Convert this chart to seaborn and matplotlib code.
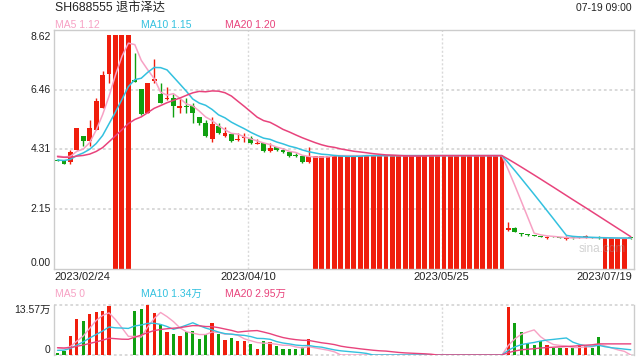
import numpy as np
import pandas as pd
import matplotlib
matplotlib.use("Agg")
import matplotlib.pyplot as plt
import matplotlib.transforms as mtransforms
import seaborn as sns

sns.set_theme(style="white")
plt.rcParams['font.family'] = ['Liberation Sans', 'Noto Sans CJK SC', 'DejaVu Sans']

# ---------------- data ----------------
title = "SH688555 退市泽达"
stamp = "07-19 09:00"

open_ = [3.93, 3.91, 3.85, 4.29, 4.80, 4.60, 4.99, 5.80, 7.04, 0, 0, 0,
         6.82, 6.49, 5.61, 6.78, 6.31, 6.14, 6.16, 5.80, 5.87, 5.87, 5.48, 5.26,
         4.68, 5.15, 4.79, 4.86, 4.63, 4.70, 4.72, 4.50, 4.54, 4.25, 4.39, 4.28,
         4.21, 4.08, 4.07, 3.85,
         0, 0, 0, 0, 0, 0, 0, 0, 0, 0, 0, 0, 0, 0, 0,
         0, 0, 0, 0, 0, 0, 0, 0, 0, 0, 0, 0, 0, 0, 0,
         1.39, 1.45, 1.25, 1.22, 1.20, 1.17, 1.10, 1.16, 1.15, 1.07, 1.11, 1.12,
         1.13, 1.14, 1.15, 0, 0, 0, 0, 1.10]
high = [3.95, 3.92, 4.29, 5.08, 4.80, 5.38, 6.16, 7.15, 8.45, 8.43, 8.43, 8.43,
        7.79, 6.49, 6.72, 7.57, 6.70, 6.56, 6.31, 6.16, 6.16, 5.98, 5.48, 5.37,
        5.48, 5.26, 5.11, 4.86, 4.90, 4.90, 4.79, 4.68, 4.54, 4.54, 4.39, 4.34,
        4.21, 4.17, 4.07, 4.39,
        4.08, 4.08, 4.08, 4.08, 4.08, 4.08, 4.08, 4.08, 4.08, 4.08, 4.08, 4.08, 4.08, 4.08, 4.08,
        4.08, 4.08, 4.08, 4.08, 4.08, 4.08, 4.08, 4.08, 4.08, 4.08, 4.08, 4.08, 4.08, 4.08, 4.08,
        1.69, 1.51, 1.27, 1.25, 1.21, 1.17, 1.19, 1.17, 1.15, 1.19, 1.12, 1.19,
        1.21, 1.15, 1.16, 1.09, 1.09, 1.09, 1.09, 1.10]
low = [3.88, 3.77, 3.78, 4.29, 4.42, 4.42, 4.99, 5.80, 6.70, 0, 0, 0,
       6.74, 5.54, 5.61, 6.70, 5.98, 6.09, 5.48, 5.62, 5.62, 5.26, 5.19, 4.75,
       4.57, 4.86, 4.75, 4.57, 4.61, 4.57, 4.50, 4.50, 4.21, 4.21, 4.26, 4.19,
       4.03, 4.03, 3.81, 3.81,
       0, 0, 0, 0, 0, 0, 0, 0, 0, 0, 0, 0, 0, 0, 0,
       0, 0, 0, 0, 0, 0, 0, 0, 0, 0, 0, 0, 0, 0, 0,
       1.37, 1.31, 1.19, 1.19, 1.17, 1.14, 1.07, 1.13, 1.09, 1.03, 1.08, 1.10,
       1.11, 1.09, 1.08, 0, 0, 0, 0, 1.08]
close = [3.90, 3.79, 4.21, 5.08, 4.60, 5.08, 6.04, 7.00, 8.43, 8.43, 8.43, 8.43,
         6.74, 5.59, 6.72, 6.85, 5.98, 6.18, 5.87, 5.87, 5.84, 5.62, 5.26, 4.79,
         5.22, 4.90, 4.90, 4.61, 4.66, 4.72, 4.54, 4.52, 4.25, 4.36, 4.28, 4.21,
         4.07, 4.05, 3.85, 4.08,
         4.08, 4.08, 4.08, 4.08, 4.08, 4.08, 4.08, 4.08, 4.08, 4.08, 4.08, 4.08, 4.08, 4.08, 4.08,
         4.08, 4.08, 4.08, 4.08, 4.08, 4.08, 4.08, 4.08, 4.08, 4.08, 4.08, 4.08, 4.08, 4.08, 4.08,
         1.45, 1.31, 1.23, 1.20, 1.19, 1.15, 1.12, 1.14, 1.09, 1.09, 1.09, 1.14,
         1.15, 1.10, 1.09, 1.09, 1.09, 1.09, 1.09, 1.09]
# volume in 万 shares
volume = [0.62, 1.00, 5.16, 9.77, 9.23, 11.13, 11.58, 11.94, 13.30, 0, 0, 0,
          11.94, 12.40, 13.57, 11.48, 8.32, 6.33, 5.61, 5.16, 6.15, 6.51, 4.34, 5.61,
          8.60, 5.61, 4.07, 4.70, 3.80, 3.80, 2.99, 1.63, 3.80, 3.60, 2.53, 1.63,
          1.63, 1.54, 2.26, 4.25,
          0, 0, 0, 0, 0, 0, 0, 0, 0, 0, 0, 0, 0, 0, 0,
          0, 0, 0, 0, 0, 0, 0, 0, 0, 0, 0, 0, 0, 0, 0,
          13.10, 8.77, 6.33, 3.17, 2.71, 3.80, 2.71, 1.81, 1.99, 1.81, 1.81, 2.71,
          2.71, 1.99, 4.97, 0, 0, 0, 0, 0]
# sessions before the visible window (only feed the moving averages)
prior_close = [4.20, 4.25, 4.18, 4.12, 4.10, 4.15, 4.22, 4.18, 4.12, 4.08,
               3.95, 3.80, 3.70, 3.65, 3.75, 3.98, 4.10, 4.18, 4.19]
prior_volume = [2.5, 3.1, 2.8, 2.2, 2.6, 3.0, 2.9, 2.4, 2.7, 2.7,
                0.6, 0.5, 0.7, 0.4, 0.6, 2.1, 2.5, 2.4, 2.28]

date_labels = ["2023/02/24", "2023/04/10", "2023/05/25", "2023/07/19"]
date_index = [0, 30, 60, 89]
price_ticks = [0.00, 2.15, 4.31, 6.46, 8.62]
price_tick_labels = ["0.00", "2.15", "4.31", "6.46", "8.62"]
vol_top = 13.57
vol_tick_labels = ["0", "13.57万"]
ma_windows = [5, 10, 20]
ma_names = ["MA5", "MA10", "MA20"]
ma_price_text = ["1.12", "1.15", "1.20"]
ma_vol_text = ["0", "1.34万", "2.95万"]

# ---------------- style ----------------
RED = "#f01d0c"
GREEN = "#10a010"
MA_COLORS = ["#f7a1c4", "#33c1df", "#e8437c"]
GRID = "#d9d9d9"
BORDER = "#cccccc"
TXT = "#222222"

n = len(close)
x = np.arange(n)
o = np.array(open_); h = np.array(high); l = np.array(low); c = np.array(close)
v = np.array(volume)
up = c >= o
colors = np.where(up, RED, GREEN)

full_close = pd.Series(prior_close + close)
full_vol = pd.Series(prior_volume + volume)
k = len(prior_close)

fig = plt.figure(figsize=(6.4, 3.6), dpi=100)
W, H = 640, 360
L, R = 54.3, 634
ax = fig.add_axes([L / W, 1 - 268.5 / H, (R - L) / W, 238.5 / H])
axv = fig.add_axes([L / W, 1 - 355 / H, (R - L) / W, 50 / H])

# ---------------- price pane ----------------
ax.set_xlim(-0.5, n - 0.5)
ax.set_ylim(0, price_ticks[-1])
for yv in price_ticks[1:-1]:
    ax.axhline(yv, color=GRID, lw=1.4, dashes=(1.4, 1.4), zorder=0)
for di in date_index[1:3]:
    ax.axvline(di - 0.35, color=GRID, lw=1.0, dashes=(1.5, 1.5), zorder=0)
    axv.axvline(di - 0.35, color=GRID, lw=1.0, dashes=(1.5, 1.5), zorder=0)

ax.vlines(x, l, h, colors=colors, lw=1.0, zorder=2)
body_h = np.maximum(np.abs(c - o), 0.035)
body_b = np.minimum(o, c)
ax.bar(x, body_h, bottom=body_b, width=0.76, color=colors, linewidth=0, zorder=2)

for w, col in zip(ma_windows, MA_COLORS):
    ma = full_close.rolling(w).mean().to_numpy()[k:]
    sns.lineplot(x=x, y=ma, ax=ax, color=col, linewidth=1.1, zorder=3)

for s in ax.spines.values():
    s.set_color(BORDER); s.set_linewidth(1.0)
ax.set_xticks([]); ax.set_yticks([])
ax.set_xlabel(""); ax.set_ylabel("")

tr = mtransforms.blended_transform_factory(ax.transAxes, ax.transData)
for i, (yv, lab) in enumerate(zip(price_ticks, price_tick_labels)):
    va = "bottom" if i == 0 else ("top" if i == len(price_ticks) - 1 else "center")
    off = 0.0
    if i == len(price_ticks) - 1:
        off = -0.06
    ax.text(-0.006, yv + off, lab, transform=tr, ha="right", va=va, fontsize=7.5, color=TXT)

trx = mtransforms.blended_transform_factory(ax.transData, ax.transAxes)
yd = -(276.5 - 268.5) / 238.5
for i, (di, lab) in enumerate(zip(date_index, date_labels)):
    if i == 0:
        ax.text(di - 0.45, yd, lab, transform=trx, ha="left", va="center", fontsize=8, color=TXT)
    elif i == len(date_index) - 1:
        ax.text(di + 0.2, yd, lab, transform=trx, ha="right", va="center", fontsize=8, color=TXT)
    else:
        ax.text(di - 0.35, yd, lab, transform=trx, ha="center", va="center", fontsize=8, color=TXT)

ax.text(602 / W, 1 - 249.5 / H, "sina.com", transform=fig.transFigure, ha="center",
        va="center", fontsize=8.5, color="#9a9a9a", alpha=0.45, zorder=5)

# ---------------- volume pane ----------------
axv.set_xlim(-0.5, n - 0.5)
axv.set_ylim(0, vol_top)
axv.bar(x, v, width=0.5, color=colors, linewidth=0, zorder=2)
for w, col in zip(ma_windows, MA_COLORS):
    mv = full_vol.rolling(w).mean().to_numpy()[k:]
    sns.lineplot(x=x, y=mv, ax=axv, color=col, linewidth=1.0, zorder=3)
for side in ["left", "right"]:
    axv.spines[side].set_color(BORDER); axv.spines[side].set_linewidth(1.0)
for side in ["top", "bottom"]:
    axv.spines[side].set_visible(False)
axv.axhline(vol_top, color=GRID, lw=1.4, dashes=(1.4, 1.4), zorder=1, clip_on=False)
axv.axhline(0, color=GRID, lw=1.4, dashes=(1.4, 1.4), zorder=1, clip_on=False)
axv.set_xticks([]); axv.set_yticks([])
axv.set_xlabel(""); axv.set_ylabel("")
trv = mtransforms.blended_transform_factory(axv.transAxes, axv.transData)
axv.text(-0.006, 0, vol_tick_labels[0], transform=trv, ha="right", va="bottom", fontsize=7.5, color=TXT)
axv.text(-0.006, vol_top, vol_tick_labels[1], transform=trv, ha="right", va="top", fontsize=7.5, color=TXT)

# ---------------- header texts ----------------
fig.text(55 / W, 1 - 8 / H, title, ha="left", va="center", fontsize=8.8, color=TXT)
fig.text(632 / W, 1 - 8 / H, stamp, ha="right", va="center", fontsize=7.5, color=TXT)
leg_x = [55, 141, 225]
for xp, name, val, col in zip(leg_x, ma_names, ma_price_text, MA_COLORS):
    fig.text(xp / W, 1 - 24.5 / H, f"{name} {val}", ha="left", va="center", fontsize=7.5, color=col)
for xp, name, val, col in zip(leg_x, ma_names, ma_vol_text, MA_COLORS):
    fig.text(xp / W, 1 - 294 / H, f"{name} {val}", ha="left", va="center", fontsize=7.5, color=col)

fig.savefig("out.png", dpi=100)
